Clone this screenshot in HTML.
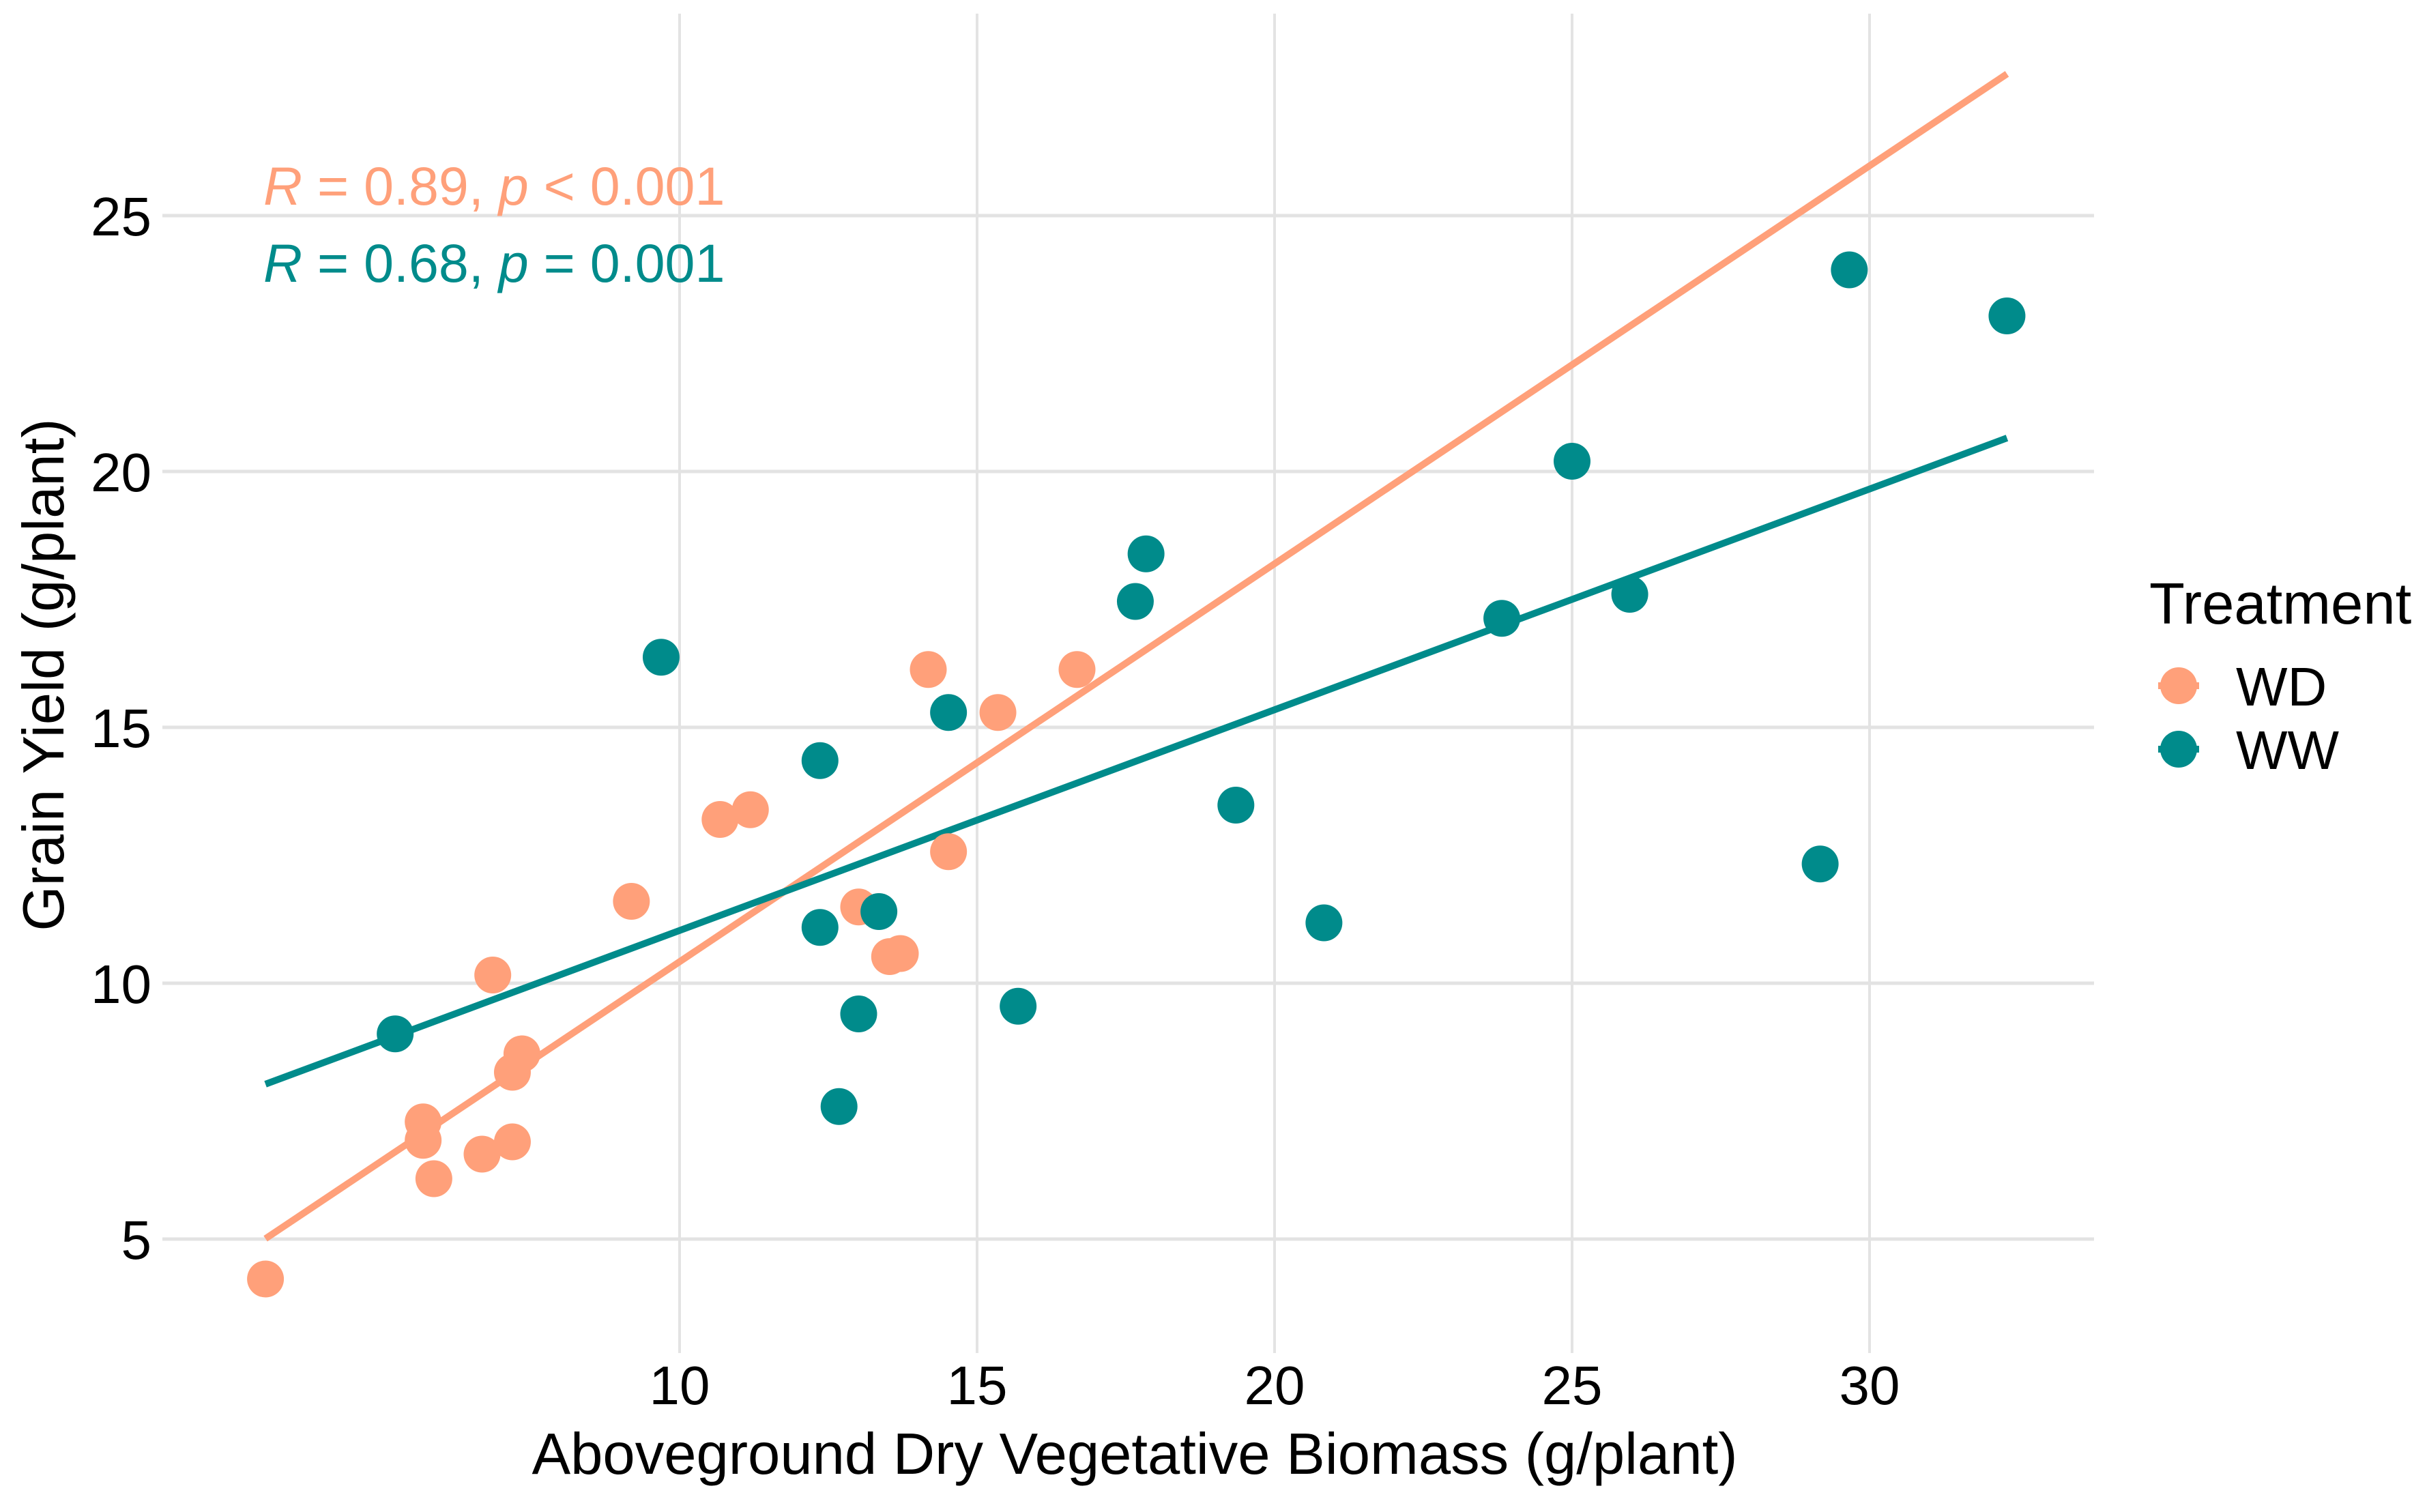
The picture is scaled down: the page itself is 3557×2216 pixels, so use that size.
<!DOCTYPE html>
<html><head><meta charset="utf-8"><style>
html,body{margin:0;padding:0;background:#fff;}
svg{display:block;font-family:"Liberation Sans",Arial,sans-serif;}
</style></head><body>
<svg id="chart" width="3557" height="2216" viewBox="0 0 3557 2216">
<g id="grid"></g>
<g id="lines"></g>
<g id="points"></g>
<g id="axes"></g>
<text x="386" y="300" font-size="79" fill="#FFA07A"><tspan font-style="italic">R</tspan> = 0.89, <tspan font-style="italic">p</tspan> &lt; 0.001</text>
<text x="386" y="413" font-size="79" fill="#008B8B"><tspan font-style="italic">R</tspan> = 0.68, <tspan font-style="italic">p</tspan> = 0.001</text>
<text x="1663" y="2160" font-size="85" text-anchor="middle" fill="#000">Aboveground Dry Vegetative Biomass (g/plant)</text>
<text transform="translate(93,989) rotate(-90)" font-size="85" text-anchor="middle" fill="#000">Grain Yield (g/plant)</text>
<g>
<text x="3150" y="914" font-size="85" fill="#000">Treatment</text>
<g>
<line x1="3163" y1="1005" x2="3223" y2="1005" stroke="#FFA07A" stroke-width="10"/>
<circle cx="3193" cy="1005" r="27" fill="#FFA07A"/>
<text x="3277" y="1034" font-size="80" fill="#000">WD</text></g>
<g>
<line x1="3163" y1="1098" x2="3223" y2="1098" stroke="#008B8B" stroke-width="10"/>
<circle cx="3193" cy="1098" r="27" fill="#008B8B"/>
<text x="3277" y="1127" font-size="80" fill="#000">WW</text></g>
</g>
</svg>
<script>
const xTicks = [10, 15, 20, 25, 30];
const yTicks = [5, 10, 15, 20, 25];
const wdX = [3.04,5.69,5.69,5.87,6.68,7.19,6.86,7.19,7.35,9.19,10.68,11.19,13.01,13.53,13.71,14.18,14.52,15.35,16.68];
const wdY = [4.22,7.29,6.93,6.18,6.66,6.90,10.16,8.26,8.62,11.6,13.2,13.39,11.49,10.52,10.58,16.13,12.57,15.29,16.13];
const wwX = [5.22,9.69,12.36,12.36,13.35,13.01,12.68,14.52,15.69,17.66,17.84,19.35,20.83,23.82,25.0,25.97,29.17,29.66,32.31];
const wwY = [9.01,16.37,14.35,11.09,11.4,9.4,7.59,15.29,9.55,17.46,18.39,13.48,11.18,17.13,20.2,17.6,12.33,23.94,23.04];

const NS = "http://www.w3.org/2000/svg";
function sx(v){ return 996 + (v - 10) * 87.2; }
function sy(v){ return 1816 - (v - 5) * 75.0; }
function mk(tag, attrs, parent){
  const e = document.createElementNS(NS, tag);
  for (const k in attrs) e.setAttribute(k, attrs[k]);
  parent.appendChild(e);
  return e;
}
const grid = document.getElementById('grid');
const axes = document.getElementById('axes');
xTicks.forEach(t => {
  const l = mk('line', {x1:sx(t), x2:sx(t), y1:20, y2:1983, stroke:'#e3e3e3', 'stroke-width':4}, grid);
  
  
  const tx = mk('text', {x:sx(t), y:2058, 'font-size':80, 'text-anchor':'middle', fill:'#000'}, axes);
  tx.textContent = t;
  
  
});
yTicks.forEach(t => {
  const l = mk('line', {x1:238, x2:3069, y1:sy(t), y2:sy(t), stroke:'#e3e3e3', 'stroke-width':5}, grid);
  
  
  const tx = mk('text', {x:222, y:sy(t)+29, 'font-size':80, 'text-anchor':'end', fill:'#000'}, axes);
  tx.textContent = t;
  
  
});
function fit(xs, ys){
  const n = xs.length;
  const mx = xs.reduce((a,b)=>a+b,0)/n, my = ys.reduce((a,b)=>a+b,0)/n;
  let sxy = 0, sxx = 0;
  for (let i=0;i<n;i++){ sxy += (xs[i]-mx)*(ys[i]-my); sxx += (xs[i]-mx)*(xs[i]-mx); }
  const b = sxy/sxx; return [my - b*mx, b];
}
const lines = document.getElementById('lines');
const points = document.getElementById('points');
const allX = wdX.concat(wwX);
const xmin = Math.min(...allX), xmax = Math.max(...allX);
[[wdX, wdY, '#FFA07A', 'wd'], [wwX, wwY, '#008B8B', 'ww']].forEach(([xs, ys, c, name]) => {
  const [a, b] = fit(xs, ys);
  const l = mk('line', {x1:sx(xmin), y1:sy(a+b*xmin), x2:sx(xmax), y2:sy(a+b*xmax), stroke:c, 'stroke-width':10}, lines);
  
  
});
[[wdX, wdY, '#FFA07A', 'wd'], [wwX, wwY, '#008B8B', 'ww']].forEach(([xs, ys, c, name]) => {
  xs.forEach((x, i) => {
    const p = mk('circle', {cx:sx(x), cy:sy(ys[i]), r:27, fill:c}, points);
    
    
  });
});
</script>
</body></html>
